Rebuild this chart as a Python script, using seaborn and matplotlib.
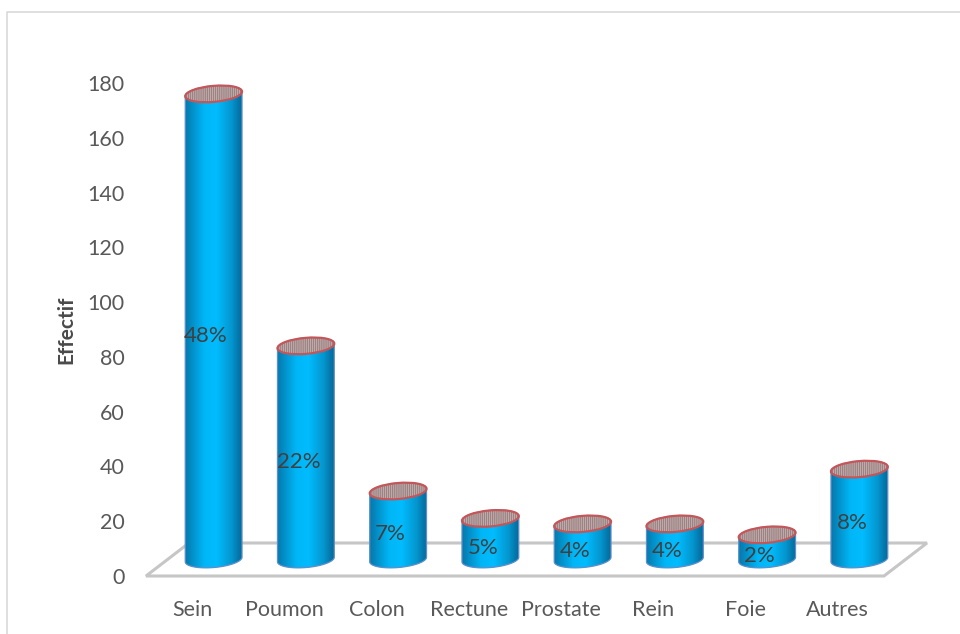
import numpy as np
import pandas as pd
import matplotlib
matplotlib.use("Agg")
import matplotlib.pyplot as plt
import seaborn as sns
from matplotlib.colors import LinearSegmentedColormap
from matplotlib.patches import Ellipse, PathPatch, Polygon
from matplotlib.path import Path
from matplotlib.transforms import IdentityTransform

categories = ["Sein", "Poumon", "Colon", "Rectune", "Prostate", "Rein", "Foie", "Autres"]
effectif = [170, 78, 25, 15, 13, 13, 9, 33]
shares = ["48%", "22%", "7%", "5%", "4%", "4%", "2%", "8%"]
y_ticks = [0, 20, 40, 60, 80, 100, 120, 140, 160, 180]

W, H = 960, 634
DPI = 100
TEXT = "#595959"
FLOOR = "#c6c6c6"
DEPTH_X, DEPTH_Y = 43, 33       # floor depth in pixels
ELL_W, ELL_H, TILT = 57, 16, 5  # cylinder cap geometry

sns.set_theme(style="white")
plt.rcParams["font.family"] = ["Lato", "DejaVu Sans"]
plt.rcParams["hatch.linewidth"] = 1.0

fig = plt.figure(figsize=(W / DPI, H / DPI), dpi=DPI, facecolor="white")
ax = fig.add_axes([146 / W, 1 - 576 / H, 738 / W, 493 / H])
ax.patch.set_alpha(0)

table = pd.DataFrame({"site": categories, "effectif": effectif})
sns.barplot(data=table, x="site", y="effectif", order=categories, color="#00b4f0",
            width=57 / 92.25, saturation=1, ax=ax, linewidth=0, zorder=3)
ax.set_xlim(-0.5, len(categories) - 0.5)
ax.set_ylim(0, 180)
ax.set_yticks(y_ticks)
ax.set_xlabel("")
ax.set_ylabel("")
ax.tick_params(axis="both", length=0, labelsize=15.5, labelcolor=TEXT)
ax.tick_params(axis="y", pad=15.5)
ax.tick_params(axis="x", pad=17)
for spine in ax.spines.values():
    spine.set_visible(False)
fig.text(66 / W, 1 - 330 / H, "Effectif", rotation=90, ha="center", va="center",
         fontsize=15, fontweight="bold", color="#4a4a4a")

px = IdentityTransform()
to_px = lambda x, y: ax.transData.transform((x, y))

# Floor of the pseudo-3D plot, drawn in pixel space behind the bars
x0, y0 = to_px(-0.5, 0)
x1, _ = to_px(len(categories) - 0.5, 0)
ax.add_artist(Polygon([(x0, y0), (x1, y0), (x1 + DEPTH_X, y0 + DEPTH_Y), (x0 + DEPTH_X, y0 + DEPTH_Y)],
                      closed=True, fill=False, edgecolor=FLOOR, linewidth=2.2,
                      transform=px, zorder=1, clip_on=False))

# Chart frame: top and left edges only, running off the canvas
frame_l, frame_t = 6.5, H - 11.5
fig.add_artist(plt.Line2D([frame_l, frame_l, W], [0, frame_t, frame_t],
                          color="#d9d9d9", linewidth=1.2, transform=px, zorder=0.2))

shade = LinearSegmentedColormap.from_list(
    "cylinder",
    [(0, "#0a6f9f"), (0.1, "#0486bd"), (0.35, "#00b6f6"), (0.55, "#00bcff"),
     (0.8, "#0596cf"), (1, "#04608f")])
ramp = np.linspace(0, 1, 200)[None, :]
tilt = np.radians(TILT)


def ellipse_points(cx, cy, start, stop):
    """Points along a tilted ellipse arc, in pixels."""
    a = np.radians(np.linspace(start, stop, 60))
    ex, ey = ELL_W / 2 * np.cos(a), ELL_H / 2 * np.sin(a)
    return np.column_stack([cx + ex * np.cos(tilt) - ey * np.sin(tilt),
                            cy + ex * np.sin(tilt) + ey * np.cos(tilt)])


for i, (bar, value, share) in enumerate(zip(ax.patches, effectif, shares)):
    cx, base = to_px(i, 0)
    cx += DEPTH_X / 2
    base += DEPTH_Y / 2
    top = to_px(i, value)[1] + DEPTH_Y / 2

    # Body outline: the top edge goes behind the cap, the lower edge is the base arc
    outline = np.vstack([ellipse_points(cx, base, 180, 360), ellipse_points(cx, top, 0, 180)])
    body = Path(np.vstack([outline, outline[0]]), closed=True)

    bar.set_clip_path(PathPatch(body, transform=px))

    im = ax.imshow(ramp, cmap=shade, aspect="auto", zorder=3.1,
                   extent=(cx - ELL_W / 2 - 2, cx + ELL_W / 2 + 2, base - 12, top + 12), transform=px)
    im.set_clip_box(fig.bbox)
    im.set_clip_path(PathPatch(body, transform=px))

    ax.add_artist(PathPatch(body, facecolor="none", edgecolor="#5f8fca", linewidth=0.9,
                            transform=px, zorder=3.2, clip_on=False))

    # Hatched cap with its red rim
    ax.add_artist(Ellipse((cx, top), ELL_W, ELL_H, angle=TILT, facecolor="#cfbdbd",
                          edgecolor="#9c8282", hatch="||||||||", linewidth=0,
                          transform=px, zorder=3.3, clip_on=False))
    ax.add_artist(Ellipse((cx, top), ELL_W, ELL_H, angle=TILT, facecolor="none",
                          edgecolor="#c4565a", linewidth=1.6,
                          transform=px, zorder=3.4, clip_on=False))

    ax.annotate(share, xy=(i, value / 2), xytext=(14 * 72 / DPI, 7.5 * 72 / DPI),
                textcoords="offset points", ha="center", va="center",
                fontsize=16, color="#404040", zorder=4, annotation_clip=False)

ax.set_xlim(-0.5, len(categories) - 0.5)
ax.set_ylim(0, 180)
fig.savefig("out.png", dpi=DPI, facecolor="white")
